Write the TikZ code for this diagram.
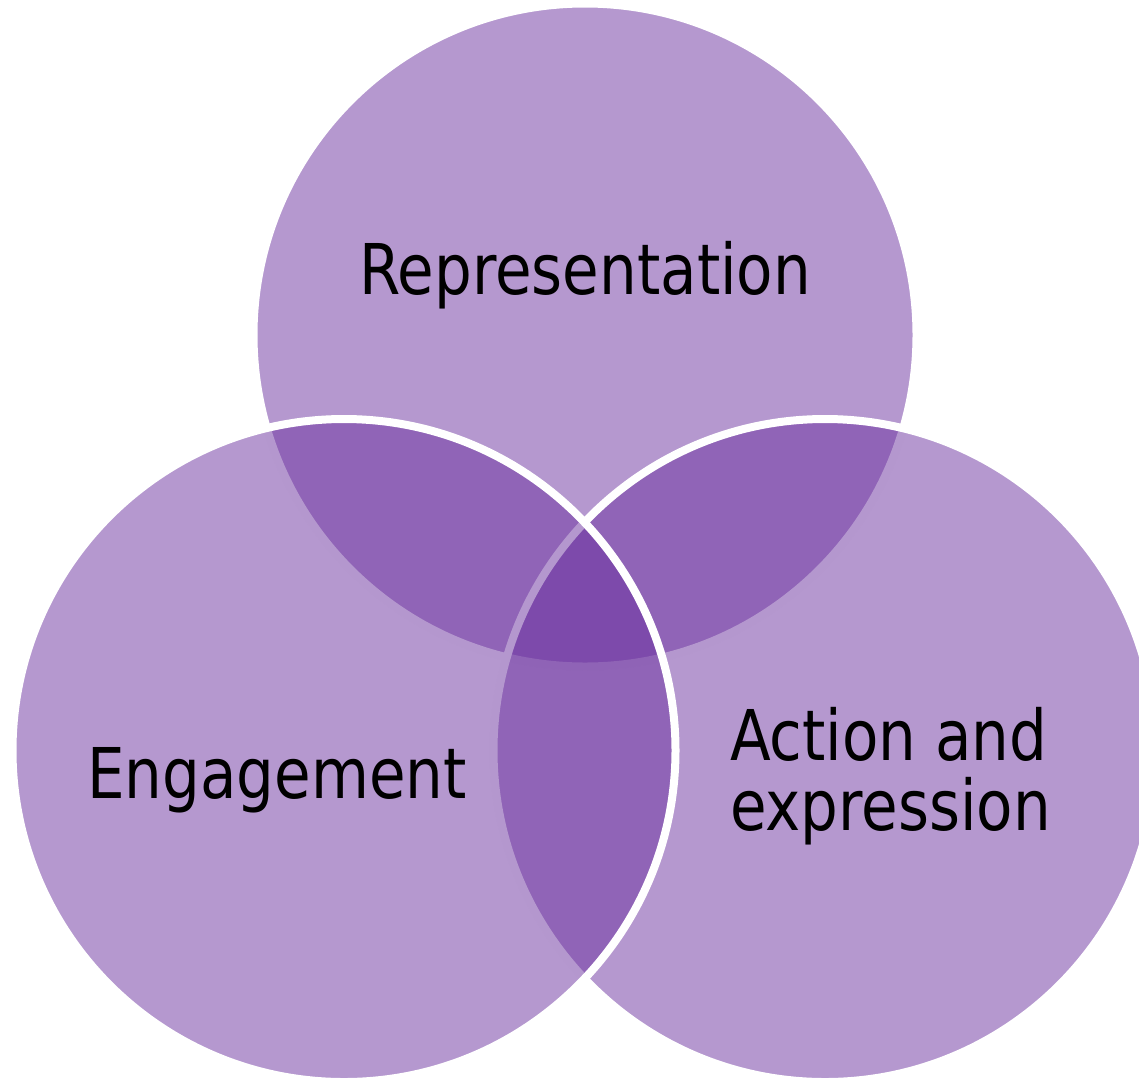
\documentclass[tikz,border=0pt]{standalone}
\usepackage{fontspec}
\setmainfont{DejaVu Sans}
\definecolor{vennbase}{RGB}{107,49,159}
\begin{document}
\begin{tikzpicture}[x=1pt,y=-1pt,
  venn/.style={circle, inner sep=0pt, outer sep=0pt, minimum size=663pt,
    fill=vennbase, fill opacity=0.5, draw=white, draw opacity=1, line width=8pt},
  lbl/.style={inner sep=0pt, outer sep=0pt, text=black,
    font=\fontsize{70}{84}\selectfont}
]
\useasboundingbox (0,0) rectangle (1139,1080);
\begin{scope}
\clip (0,0) rectangle (1139,1080);
\node[venn] (rep) at (585,335) {};
\node[venn] (act) at (825,750.5) {};
\node[venn] (eng) at (344,750.5) {};
\end{scope}
\node[lbl, anchor=base] (trep) at (585,294) {\scalebox{0.85}[1]{Representation}};
\node[lbl, anchor=base] (teng) at (277,798) {\scalebox{0.85}[1]{Engagement}};
\node[lbl, anchor=base west] (tact1) at (730,760) {\scalebox{0.85}[1]{Action and}};
\node[lbl, anchor=base west] (tact2) at (730,830) {\scalebox{0.85}[1]{expression}};
\end{tikzpicture}
\end{document}
